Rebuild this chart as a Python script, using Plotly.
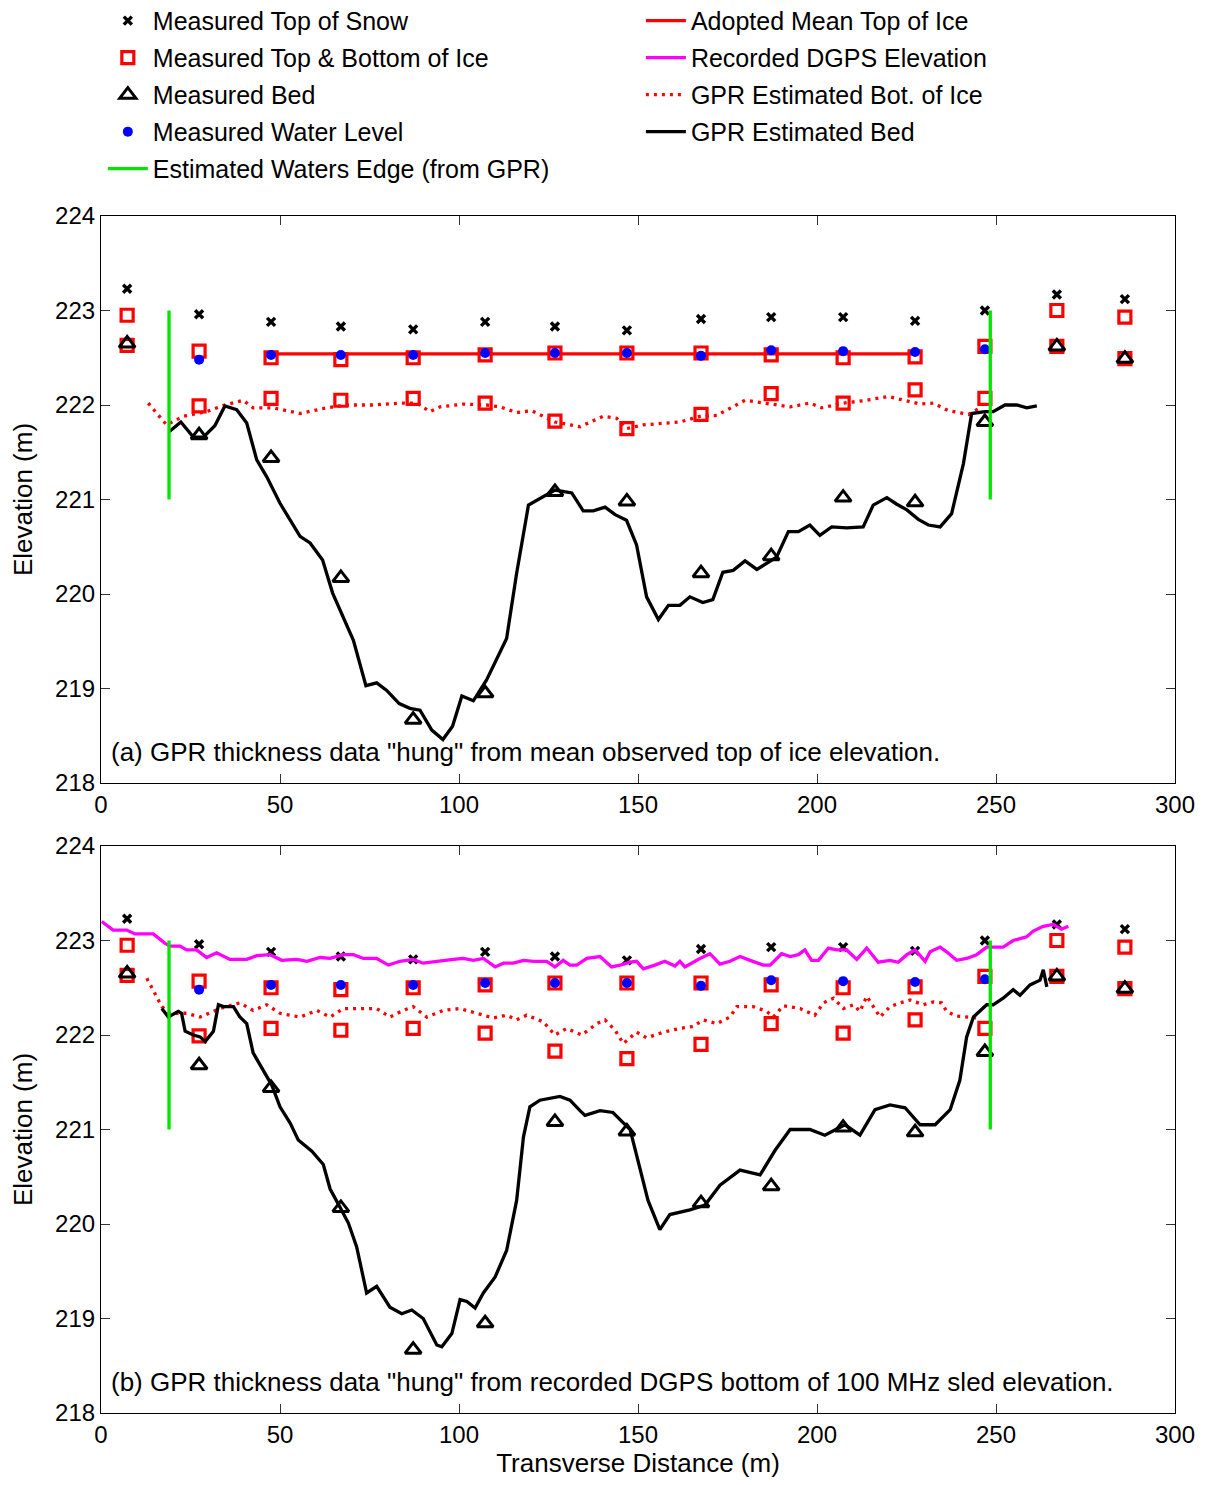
import plotly.graph_objects as go

# ---------------- data ----------------
station_x = [7.3, 27.4, 47.5, 67.0, 87.2, 107.3, 126.8, 146.9, 167.6, 187.2, 207.3, 227.4, 246.9, 267.0, 286.0]
snow_top = [223.23, 222.96, 222.88, 222.83, 222.80, 222.88, 222.83, 222.79, 222.91, 222.93, 222.93, 222.89, 223.00, 223.17, 223.12]
ice_top = [222.95, 222.57, 222.50, 222.48, 222.50, 222.53, 222.55, 222.55, 222.55, 222.53, 222.50, 222.51, 222.62, 223.00, 222.93]
ice_bottom = [222.63, 221.99, 222.07, 222.05, 222.07, 222.02, 221.83, 221.75, 221.90, 222.12, 222.02, 222.16, 222.07, 222.62, 222.49]
bed_measured = [222.65, 221.68, 221.44, 220.17, 218.67, 218.95, 221.08, 220.98, 220.22, 220.40, 221.02, 220.97, 221.82, 222.62, 222.49]
water_x = [27.4, 47.5, 67.0, 87.2, 107.3, 126.8, 146.9, 167.6, 187.2, 207.3, 227.4, 246.9]
water_level = [222.48, 222.53, 222.53, 222.53, 222.55, 222.55, 222.55, 222.52, 222.58, 222.57, 222.56, 222.59]

mean_ice_x = [47.5, 227.4]
mean_ice_top = 222.54

edge_x = [19.0, 248.4]
edge_y = [221.0, 223.0]

# panel (a) GPR estimated bed
bed_a_x = [19.1, 22.3, 25.8, 28.6, 31.8, 34.6, 37.9, 40.7, 43.5, 46.3, 50.0, 55.6, 58.4, 61.9, 64.7,
           70.5, 74.0, 77.0, 79.8, 83.3, 86.3, 89.1, 92.4, 95.5, 98.2, 100.8, 104.0, 107.7, 113.3,
           116.1, 119.4, 123.5, 126.8, 131.5, 134.7, 137.5, 140.8, 143.6, 146.8, 149.6, 152.4,
           155.7, 158.5, 161.7, 164.5, 168.1, 170.9, 173.7, 176.6, 179.9, 183.2, 188.7, 192.0,
           194.8, 198.0, 200.8, 204.1, 208.3, 212.9, 215.7, 219.5, 222.3, 225.1, 228.3, 231.1,
           234.4, 237.6, 240.9, 243.2, 246.9, 249.2, 252.5, 255.8, 258.6, 261.4]
bed_a_y = [221.72, 221.82, 221.66, 221.66, 221.78, 221.99, 221.95, 221.81, 221.42, 221.24, 220.96,
           220.61, 220.54, 220.36, 220.01, 219.51, 219.03, 219.06, 218.98, 218.84, 218.79, 218.77,
           218.56, 218.46, 218.60, 218.92, 218.87, 219.09, 219.53, 220.22, 220.94, 221.03, 221.10,
           221.07, 220.88, 220.88, 220.92, 220.84, 220.78, 220.52, 219.97, 219.73, 219.88, 219.88,
           219.97, 219.91, 219.94, 220.23, 220.25, 220.35, 220.26, 220.39, 220.66, 220.66, 220.73,
           220.62, 220.71, 220.70, 220.71, 220.94, 221.02, 220.95, 220.89, 220.79, 220.73, 220.71,
           220.85, 221.38, 221.91, 221.93, 221.93, 222.00, 222.00, 221.97, 221.99]

# panel (a) GPR estimated bottom of ice
ice_a_x = [13.2, 18.3, 23.0, 29.5, 34.6, 39.7, 42.5, 48.1, 55.6, 63.0, 68.6, 76.1, 83.5, 88.2, 91.9,
           94.7, 101.2, 107.7, 111.5, 116.1, 120.3, 123.5, 126.8, 133.8, 140.3, 144.0, 146.8, 151.5,
           161.7, 167.3, 172.0, 179.9, 186.0, 192.5, 198.0, 201.3, 207.4, 213.9, 219.9, 224.1,
           228.8, 232.5, 236.7, 242.3, 245.5]
ice_a_y = [222.02, 221.79, 221.88, 221.93, 222.00, 222.05, 221.97, 221.97, 221.91, 221.97, 222.00,
           222.00, 222.02, 222.02, 221.93, 221.98, 222.01, 222.00, 221.98, 221.92, 221.94, 221.88,
           221.82, 221.77, 221.88, 221.86, 221.75, 221.79, 221.82, 221.88, 221.89, 222.05, 222.02,
           221.98, 222.02, 221.97, 222.02, 222.05, 222.09, 222.05, 222.01, 222.02, 221.94, 221.90,
           221.97]

# panel (b) recorded DGPS elevation
dgps_x = [0.2, 3.4, 7.2, 9.5, 14.6, 17.9, 19.3, 22.1, 23.9, 26.7, 29.5, 32.3, 36.0, 40.7, 43.5, 47.2,
          50.5, 54.7, 57.5, 61.2, 64.0, 67.7, 70.5, 73.3, 77.0, 80.3, 83.5, 87.2, 90.0, 93.8, 98.4,
          101.2, 104.0, 106.8, 110.1, 112.4, 115.2, 118.0, 120.8, 124.5, 126.8, 129.1, 131.0, 132.9,
          135.7, 139.4, 142.6, 145.0, 147.8, 149.6, 151.5, 154.7, 157.5, 160.3, 161.7, 163.1, 167.3,
          170.1, 172.9, 175.7, 178.5, 181.3, 185.0, 186.9, 190.1, 192.5, 194.8, 196.6, 198.5, 200.4,
          203.2, 205.5, 208.3, 211.1, 213.9, 217.1, 220.4, 222.7, 225.1, 227.4, 230.2, 231.6, 234.4,
          236.2, 239.0, 241.8, 244.6, 247.4, 252.0, 254.8, 258.6, 260.4, 263.2, 266.0, 268.3, 270.2]
dgps_y = [223.20, 223.11, 223.11, 223.07, 223.07, 222.97, 222.94, 222.94, 222.90, 222.90, 222.82,
          222.87, 222.80, 222.80, 222.84, 222.85, 222.79, 222.80, 222.78, 222.82, 222.81, 222.85,
          222.85, 222.81, 222.81, 222.74, 222.78, 222.80, 222.76, 222.78, 222.80, 222.81, 222.79,
          222.81, 222.72, 222.76, 222.76, 222.79, 222.78, 222.78, 222.72, 222.79, 222.74, 222.74,
          222.81, 222.83, 222.72, 222.74, 222.77, 222.78, 222.70, 222.74, 222.78, 222.73, 222.78,
          222.72, 222.81, 222.86, 222.75, 222.78, 222.83, 222.79, 222.74, 222.74, 222.86, 222.83,
          222.85, 222.90, 222.79, 222.79, 222.92, 222.90, 222.90, 222.80, 222.92, 222.77, 222.79,
          222.77, 222.85, 222.90, 222.78, 222.88, 222.93, 222.88, 222.79, 222.81, 222.85, 222.93,
          222.93, 223.00, 223.04, 223.10, 223.15, 223.17, 223.12, 223.15]

# panel (b) GPR estimated bottom of ice
ice_b_x = [12.8, 17.0, 19.3, 23.9, 27.7, 30.4, 33.2, 38.8, 42.5, 46.3, 50.0, 55.6, 60.3, 64.0, 67.7,
           73.3, 77.0, 80.7, 84.4, 87.2, 91.0, 95.6, 100.3, 104.9, 109.6, 113.3, 116.1, 118.9, 123.5,
           126.8, 130.1, 134.3, 138.5, 140.8, 143.6, 145.9, 149.6, 152.4, 157.1, 161.7, 165.4, 168.2,
           172.0, 175.7, 177.6, 182.2, 186.0, 187.8, 190.6, 195.3, 199.4, 201.8, 204.6, 207.4, 210.2,
           212.0, 213.9, 217.6, 220.4, 223.2, 226.0, 229.7, 232.5, 234.8, 236.2, 239.0, 242.3, 245.0]
ice_b_y = [222.60, 222.30, 222.23, 222.23, 222.19, 222.23, 222.28, 222.34, 222.26, 222.32, 222.23,
           222.19, 222.26, 222.19, 222.28, 222.28, 222.28, 222.19, 222.26, 222.30, 222.19, 222.26,
           222.28, 222.23, 222.18, 222.21, 222.16, 222.21, 222.14, 222.00, 222.07, 222.00, 222.12,
           222.16, 222.05, 221.91, 222.03, 221.97, 222.03, 222.07, 222.09, 222.16, 222.12, 222.19,
           222.30, 222.30, 222.25, 222.19, 222.31, 222.28, 222.21, 222.34, 222.39, 222.28, 222.32,
           222.25, 222.41, 222.19, 222.30, 222.34, 222.37, 222.32, 222.35, 222.34, 222.25, 222.20,
           222.19, 222.18]

# panel (b) GPR estimated bed
bed_b_x = [17.0, 18.8, 21.6, 22.5, 23.5, 25.8, 27.7, 29.1, 31.4, 32.8, 34.2, 37.0, 38.8, 40.7, 42.5,
           44.9, 47.7, 50.0, 52.8, 55.1, 58.9, 62.1, 64.0, 66.3, 69.1, 71.4, 74.2, 77.0, 80.7, 84.0,
           86.8, 90.0, 93.8, 95.2, 98.0, 100.3, 102.2, 104.5, 106.8, 110.1, 113.3, 116.1, 118.0,
           119.8, 122.6, 128.2, 131.0, 133.8, 135.2, 139.4, 143.0, 147.8, 150.6, 152.8, 156.1, 158.9,
           164.5, 168.7, 172.9, 178.5, 184.1, 188.3, 192.5, 198.0, 202.2, 207.8, 212.0, 216.2, 220.4,
           224.6, 228.8, 233.0, 237.2, 239.9, 241.8, 243.7, 247.4, 249.2, 252.0, 254.8, 256.7, 259.5,
           262.3, 263.2, 264.2]
bed_b_y = [222.28, 222.19, 222.25, 222.23, 222.04, 222.00, 221.98, 221.93, 222.04, 222.32, 222.30,
           222.30, 222.19, 222.12, 221.81, 221.66, 221.47, 221.24, 221.07, 220.89, 220.77, 220.63,
           220.37, 220.21, 220.01, 219.76, 219.27, 219.34, 219.12, 219.05, 219.09, 219.00, 218.72,
           218.70, 218.84, 219.20, 219.18, 219.11, 219.27, 219.44, 219.72, 220.25, 220.92, 221.24,
           221.31, 221.35, 221.31, 221.20, 221.15, 221.20, 221.18, 221.00, 220.57, 220.25, 219.94,
           220.10, 220.15, 220.20, 220.41, 220.57, 220.52, 220.78, 221.00, 221.00, 220.94, 221.05,
           220.94, 221.21, 221.26, 221.23, 221.05, 221.05, 221.21, 221.52, 221.98, 222.19, 222.32,
           222.32, 222.39, 222.48, 222.42, 222.53, 222.58, 222.69, 222.51]

x_ticks = [0, 50, 100, 150, 200, 250, 300]
y_ticks = [218, 219, 220, 221, 222, 223, 224]

# ---------------- styling ----------------
FONT = "Arial, 'Liberation Sans', sans-serif"
FS = 24
FS_T = 26
RED = "#ff0000"
GREEN = "#00e600"
BLUE = "#0000ff"
MAGENTA = "#ff00ff"

edge_line_x = [edge_x[0], edge_x[0], None, edge_x[1], edge_x[1]]
edge_line_y = [edge_y[0], edge_y[1], None, edge_y[0], edge_y[1]]

fig = go.Figure()


def add_panel(xa, ya, panel, first):
    sl = first
    fig.add_trace(go.Scatter(
        x=station_x + station_x, y=ice_top + ice_bottom, mode="markers",
        name="Measured Top & Bottom of Ice", legend="legend", legendgroup="ice", legendrank=2,
        showlegend=sl, xaxis=xa, yaxis=ya,
        marker=dict(symbol="square-open", size=12, color=RED, line=dict(width=3.2, color=RED))))
    fig.add_trace(go.Scatter(
        x=station_x, y=bed_measured, mode="markers",
        name="Measured Bed", legend="legend", legendgroup="bed", legendrank=3,
        showlegend=sl, xaxis=xa, yaxis=ya,
        marker=dict(symbol="triangle-up-open", size=14, color="black", line=dict(width=3, color="black"))))
    fig.add_trace(go.Scatter(
        x=station_x, y=snow_top, mode="markers",
        name="Measured Top of Snow", legend="legend", legendgroup="snow", legendrank=1,
        showlegend=sl, xaxis=xa, yaxis=ya,
        marker=dict(symbol="x-thin-open", size=8, color="black", line=dict(width=3.4, color="black"))))
    if panel == "a":
        fig.add_trace(go.Scatter(
            x=mean_ice_x, y=[mean_ice_top] * len(mean_ice_x), mode="lines",
            name="Adopted Mean Top of Ice", legend="legend2", legendgroup="mean", legendrank=1,
            showlegend=True, xaxis=xa, yaxis=ya, line=dict(color=RED, width=3.3)))
    else:
        fig.add_trace(go.Scatter(
            x=dgps_x, y=dgps_y, mode="lines",
            name="Recorded DGPS Elevation", legend="legend2", legendgroup="dgps", legendrank=2,
            showlegend=True, xaxis=xa, yaxis=ya, line=dict(color=MAGENTA, width=3.3)))
    fig.add_trace(go.Scatter(
        x=water_x, y=water_level, mode="markers",
        name="Measured Water Level", legend="legend", legendgroup="water", legendrank=4,
        showlegend=sl, xaxis=xa, yaxis=ya,
        marker=dict(symbol="circle", size=10, color=BLUE)))
    fig.add_trace(go.Scatter(
        x=ice_a_x if panel == "a" else ice_b_x, y=ice_a_y if panel == "a" else ice_b_y, mode="lines",
        name="GPR Estimated Bot. of Ice", legend="legend2", legendgroup="gprice", legendrank=3,
        showlegend=sl, xaxis=xa, yaxis=ya, line=dict(color=RED, width=3.3, dash="3px,5px")))
    fig.add_trace(go.Scatter(
        x=bed_a_x if panel == "a" else bed_b_x, y=bed_a_y if panel == "a" else bed_b_y, mode="lines",
        name="GPR Estimated Bed", legend="legend2", legendgroup="gprbed", legendrank=4,
        showlegend=sl, xaxis=xa, yaxis=ya, line=dict(color="black", width=3.3)))
    fig.add_trace(go.Scatter(
        x=edge_line_x, y=edge_line_y, mode="lines",
        name="Estimated Waters Edge (from GPR)", legend="legend", legendgroup="edge", legendrank=5,
        showlegend=sl, xaxis=xa, yaxis=ya, line=dict(color=GREEN, width=3.3)))


add_panel("x", "y", "a", True)
add_panel("x2", "y2", "b", False)

axis_common = dict(
    showgrid=False, zeroline=False, showline=True, linecolor="black", linewidth=1.2,
    mirror="allticks", ticks="inside", ticklen=9, tickwidth=1, tickcolor="#333333",
    tickfont=dict(family=FONT, size=FS, color="black"),
)

ya_dom = [630 / 1197, 1.0]
yb_dom = [0.0, 567 / 1197]

fig.update_layout(
    # page body has an 8px margin, so the figure is 8px smaller each way
    width=1198, height=1477,
    margin=dict(l=93, r=31, t=208, b=72, autoexpand=False),
    paper_bgcolor="white", plot_bgcolor="white",
    font=dict(family=FONT, size=FS, color="black"),
    xaxis=dict(domain=[0, 1], anchor="y", range=[0, 300], tickvals=x_ticks, **axis_common),
    yaxis=dict(domain=ya_dom, anchor="x", range=[218, 224], tickvals=y_ticks,
               title=dict(text="Elevation (m)", font=dict(family=FONT, size=FS_T), standoff=22), **axis_common),
    xaxis2=dict(domain=[0, 1], anchor="y2", range=[0, 300], tickvals=x_ticks,
                title=dict(text="Transverse Distance (m)", font=dict(family=FONT, size=FS_T), standoff=6),
                **axis_common),
    yaxis2=dict(domain=yb_dom, anchor="x2", range=[218, 224], tickvals=y_ticks,
                title=dict(text="Elevation (m)", font=dict(family=FONT, size=FS_T), standoff=22), **axis_common),
    legend=dict(x=0.0017, y=1.1822, xanchor="left", yanchor="top", bgcolor="rgba(0,0,0,0)",
                font=dict(family=FONT, size=25, color="black"), tracegroupgap=1.5,
                traceorder="grouped", itemwidth=40),
    legend2=dict(x=0.5027, y=1.1822, xanchor="left", yanchor="top", bgcolor="rgba(0,0,0,0)",
                 font=dict(family=FONT, size=25, color="black"), tracegroupgap=1.5,
                 traceorder="grouped", itemwidth=40),
    annotations=[
        dict(text='(a) GPR thickness data "hung" from mean observed top of ice elevation.',
             xref="x domain", yref="y domain", x=0.0075, y=0.055, xanchor="left", yanchor="middle",
             showarrow=False, font=dict(family=FONT, size=FS_T, color="black")),
        dict(text='(b) GPR thickness data "hung" from recorded DGPS bottom of 100 MHz sled elevation.',
             xref="x2 domain", yref="y2 domain", x=0.0075, y=0.055, xanchor="left", yanchor="middle",
             showarrow=False, font=dict(family=FONT, size=FS_T, color="black")),
    ],
)

fig.write_html("out.html")
